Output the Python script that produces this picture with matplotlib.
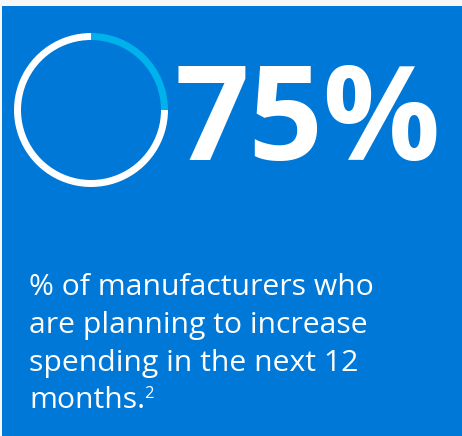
import matplotlib
matplotlib.use("Agg")
import matplotlib.pyplot as plt

# data
labels = ["Planning to increase", "Other"]
values = [75, 25]
ring_colors = ["#FFFFFF", "#00B2EC"]
big_label = "75%"
body_lines = ["% of manufacturers who",
              "are planning to increase",
              "spending in the next 12",
              "months."]
footnote = "2"

W, H = 462, 436
fig = plt.figure(figsize=(W / 100, H / 100), dpi=100)
fig.patch.set_facecolor("#F7F7F7")
bg = fig.add_axes([2 / W, 0, 1 - 2 / W, 1 - 6 / H], zorder=-10)
bg.set_facecolor("#0078D7")
bg.set_xticks([])
bg.set_yticks([])
for s in bg.spines.values():
    s.set_visible(False)

cx, cy, r = 91, H - 110, 77
ax = fig.add_axes([(cx - r) / W, (cy - r) / H, 2 * r / W, 2 * r / H], zorder=1)
ax.pie(values, colors=ring_colors, startangle=90, counterclock=True, radius=1,
       wedgeprops=dict(width=7 / 77, edgecolor="none"))
ax.set_xlim(-1, 1)
ax.set_ylim(-1, 1)
ax.set_aspect("equal")
ax.axis("off")

fig.text(174 / W, (H - 160) / H, big_label, color="white", fontsize=94,
         fontweight="bold", family="Open Sans", ha="left", va="baseline", zorder=5)

baselines = [295, 333, 371, 408]
texts = []
for line, b in zip(body_lines, baselines):
    t = fig.text(29 / W, (H - b) / H, line, color="white", fontsize=21.7,
                 family="Open Sans", ha="left", va="baseline", zorder=5)
    texts.append(t)

fig.canvas.draw()
bb = texts[-1].get_window_extent()
fig.text((bb.x1 - 1) / W, (H - 398) / H, footnote, color="white", fontsize=12,
         family="Open Sans", ha="left", va="baseline", zorder=5)

fig.savefig("out.png", dpi=100)
